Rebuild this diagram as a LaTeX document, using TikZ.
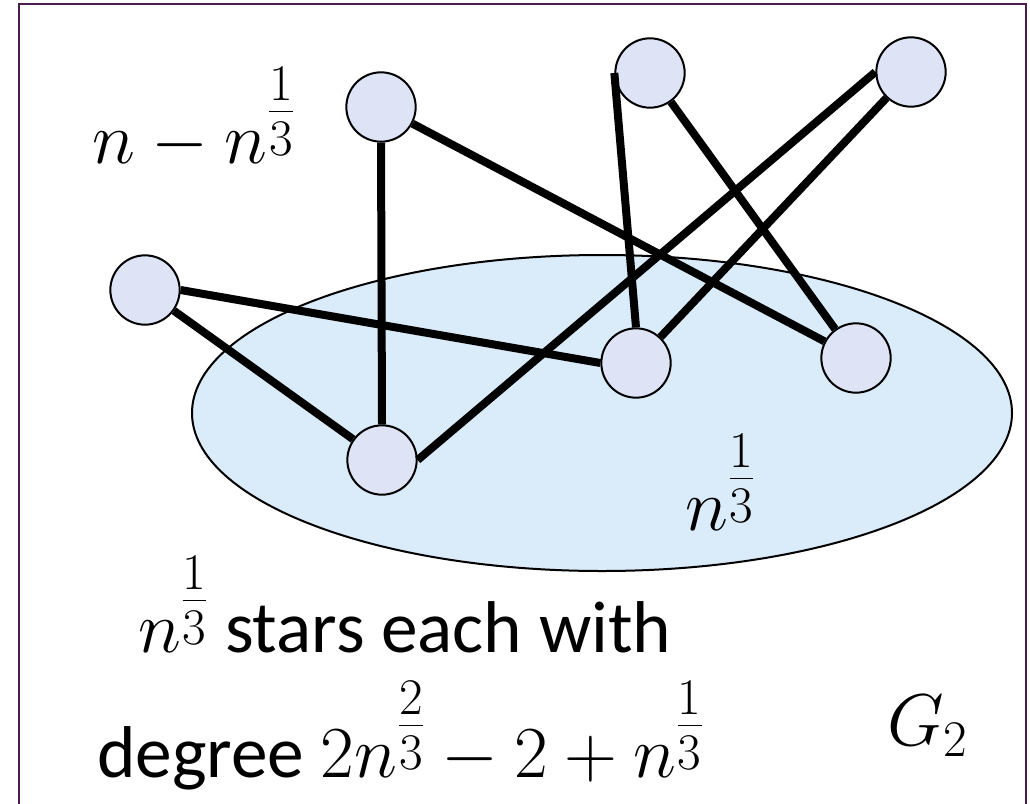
\RequirePackage{fix-cm}
\documentclass[tikz,border=0pt]{standalone}
\usepackage[no-math]{fontspec}
\setmainfont{Carlito}
\usepackage{amsmath}
\definecolor{framec}{HTML}{4B1D4E}
\definecolor{vfill}{HTML}{DEE4F6}
\definecolor{efill}{HTML}{DAEBF9}
\newcommand{\thr}[1]{\genfrac{}{}{}{1}{#1}{3}}
\tikzset{
  vert/.style={circle, draw=black, fill=vfill, line width=1.5pt, minimum size=52pt, inner sep=0pt},
  edgeline/.style={line width=6pt, black},
  lbl/.style={anchor=base west, inner sep=0pt, font=\fontsize{55}{66}\selectfont},
}
\begin{document}
\begin{tikzpicture}[x=0.75pt, y=-0.75pt]
\useasboundingbox (0,0) rectangle (1030,803);
\fill[white] (0,0) rectangle (1030,803);
\clip (0,0) rectangle (1030,803);
\draw[framec, line width=1.5pt] (19,4) rectangle (1026,840);
\draw[black, line width=1.5pt, fill=efill] (602,413) ellipse [x radius=307.5pt, y radius=118.5pt];
\node[vert] (a) at (381,107) {};
\node[vert] (b) at (650,73) {};
\node[vert] (c) at (911,72) {};
\node[vert] (d) at (145,290) {};
\node[vert] (e) at (636,363) {};
\node[vert] (f) at (856,358) {};
\node[vert] (g) at (382,460) {};
\draw[edgeline] (a.south) -- (g.north);
\draw[edgeline] (a) -- (f);
\draw[edgeline] (b.west) -- (e.north);
\draw[edgeline] (b) -- (f);
\draw[edgeline] (c.west) -- (g.east);
\draw[edgeline] (c) -- (e);
\draw[edgeline] (d.east) -- (e.west);
\draw[edgeline] (d) -- (g);
\node[lbl] (t1) at (92,163) {$n-n^{\thr{1}}$};
\node[lbl] (t2) at (685,530) {$n^{\thr{1}}$};
\node[lbl] (t3) at (138,652) {$n^{\thr{1}}$ stars each with};
\node[lbl] (t4) at (97,777) {degree $2n^{\thr{2}}-2+n^{\thr{1}}$};
\node[lbl] (t5) at (887,745) {$G_2$};
\end{tikzpicture}
\end{document}
